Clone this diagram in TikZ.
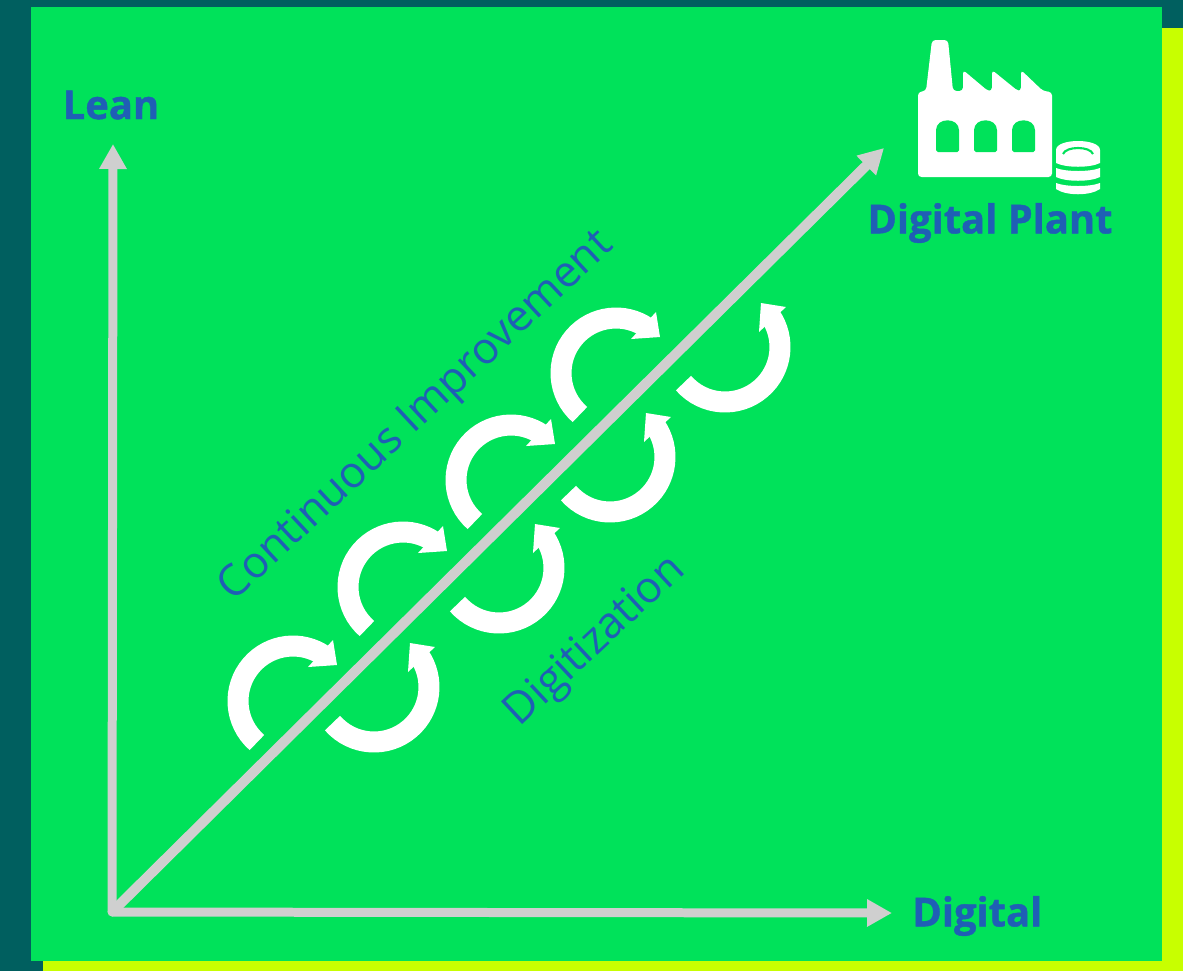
\documentclass[tikz,border=0pt]{standalone}
\usepackage{fontspec}
\setmainfont{Open Sans}[BoldFeatures={FakeBold=1}]
\usetikzlibrary{arrows.meta,positioning}
\definecolor{tealback}{HTML}{005F5F}
\definecolor{limeback}{HTML}{C8FF00}
\definecolor{greenback}{HTML}{00E25A}
\definecolor{axisgray}{HTML}{CFCFCF}
\definecolor{labelblue}{HTML}{1F5FB5}
\begin{document}
\begin{tikzpicture}[x=0.02cm,y=-0.02cm,node distance=0.4cm]
	\tikzstyle{axis}
	  =[draw=axisgray, line width=0.18cm,
	  -{Triangle[length=0.5cm,width=0.52cm,sharp]}]
	\tikzstyle{title}
	  =[text=labelblue, font=\fontsize{22.7}{26}\selectfont\bfseries, inner sep=0pt]
	\tikzstyle{slanted}
	  =[text=labelblue, font=\fontsize{24.8}{28}\selectfont, rotate=43, inner sep=0pt]
	\tikzset{
	  turn/.pic={
	    \draw[white, line width=0.42cm] (229:1.1cm) arc[start angle=229, end angle=55, radius=1.1cm];
	    \fill[white] (0.80cm,1.22cm) -- (0.88cm,0.72cm) -- (0.30cm,0.68cm) -- cycle;
	  }
	}

	% backgrounds
	\fill[tealback] (0,0) rectangle (1183,971);
	\fill[limeback] (43,28) rectangle (1183,971);
	\fill[greenback] (31,7) rectangle (1162,961);

	\coordinate (origin) at (112,912);
	\coordinate (leantip) at (113,144);
	\coordinate (digitaltip) at (892,913);
	\coordinate (planttip) at (884,148);

	\fill[axisgray] (origin) circle[radius=0.09cm];
	\draw[axis] (origin) -- (leantip);
	\draw[axis] (origin) -- (digitaltip);
	\draw[axis, line width=0.2cm] (origin) -- (planttip);

	\node[title] (lean) at (111,105) {Lean};
	\node[title] (digital) [right=0.4cm of digitaltip, yshift=-0.06cm] {Digital};
	\node[slanted] (continuous) at (417,417) {Continuous Improvement};
	\node[slanted] (digitization) at (596,642) {Digitization};

	% loops above the line
	\foreach \px/\py in {293/701, 403/587, 511/480, 616/373}
	  \pic at (\px,\py) {turn};
	% loops below the line
	\foreach \px/\py in {374/687, 499/568, 610/457, 725/347}
	  \pic[cm={0,1,1,0,(0,0)}] at (\px,\py) {turn};

	% factory
	\fill[white, rounded corners=2pt] (918,92) -- (926,91) -- (932,40) -- (948,40) -- (953,91)
	  -- (963,91) -- (963,70) -- (988,91) -- (992,91) -- (992,70) -- (1018,91) -- (1021,91)
	  -- (1021,70) -- (1043,91) -- (1052,92) -- (1052,177) -- (918,177) -- cycle;
	\foreach \px in {936,974,1012}
	  \fill[greenback, rounded corners=1pt] (\px,152) -- (\px,132)
	    .. controls (\px,117) and (\px+23,117) .. (\px+23,132) -- (\px+23,152) -- cycle;

	% database
	\fill[white] (1056,150) .. controls (1056,138) and (1100,138) .. (1100,150) -- (1100,163)
	  .. controls (1090,168) and (1066,168) .. (1056,163) -- cycle;
	\draw[greenback, line width=1.2pt] (1063,154) .. controls (1066,146) and (1090,146) .. (1093,154);
	\fill[white] (1056,168) .. controls (1066,172) and (1090,172) .. (1100,168) -- (1100,177)
	  .. controls (1090,182) and (1066,182) .. (1056,177) -- cycle;
	\fill[white] (1056,183) .. controls (1066,187) and (1090,187) .. (1100,183) -- (1100,189)
	  .. controls (1090,196) and (1066,196) .. (1056,189) -- cycle;

	\node[title] (plant) at (990,223) {Digital Plant};
\end{tikzpicture}
\end{document}
